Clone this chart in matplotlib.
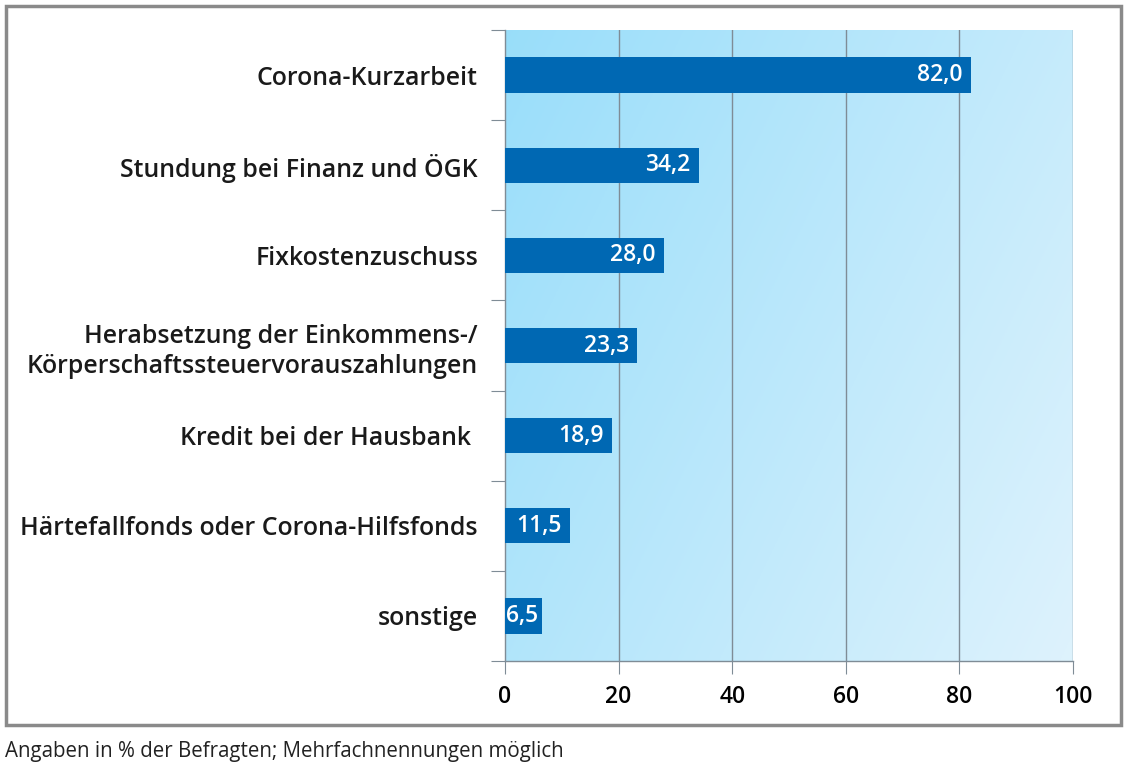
import numpy as np
import matplotlib
matplotlib.use("Agg")
import matplotlib.pyplot as plt
from matplotlib.patches import Rectangle

categories = [
    "Corona-Kurzarbeit",
    "Stundung bei Finanz und ÖGK",
    "Fixkostenzuschuss",
    "Herabsetzung der Einkommens-/\nKörperschaftssteuervorauszahlungen",
    "Kredit bei der Hausbank ",
    "Härtefallfonds oder Corona-Hilfsfonds",
    "sonstige",
]
values = [82.0, 34.2, 28.0, 23.3, 18.9, 11.5, 6.5]
xticks = [0, 20, 40, 60, 80, 100]
footnote = "Angaben in % der Befragten; Mehrfachnennungen möglich"

W, H = 1128, 776
fig = plt.figure(figsize=(W / 100, H / 100), dpi=100)

# outer frame
fig.patches.append(Rectangle((6 / W, 1 - 725 / H), (1121 - 6) / W, (725 - 6) / H,
                             transform=fig.transFigure, fill=False,
                             edgecolor="#8a8a8a", linewidth=2.5))

ax = fig.add_axes([505 / W, 1 - 661 / H, (1073 - 505) / W, (661 - 30) / H])

# gradient background
ny, nx = 200, 200
xx, yy = np.meshgrid(np.linspace(0, 1, nx), np.linspace(0, 1, ny))
t = np.clip(0.65 * xx + 0.35 * yy, 0, 1)
c0 = np.array([0.60, 0.87, 0.98])
c1 = np.array([0.87, 0.95, 0.99])
img = c0[None, None, :] * (1 - t[..., None]) + c1[None, None, :] * t[..., None]
ax.imshow(img, extent=[0, 1, 0, 1], transform=ax.transAxes, aspect="auto",
          zorder=0, origin="upper")

n = len(categories)
ypos = np.arange(n)
ax.barh(ypos, values, height=0.39, color="#0068b3", zorder=3)
ax.set_xlim(0, 100)
ax.set_ylim(n - 0.5, -0.5)

for x in xticks[1:]:
    ax.axvline(x, color="#7f8c96", linewidth=1.0, zorder=2)

for y, v in zip(ypos, values):
    label = f"{v:.1f}".replace(".", ",")
    if v < 8:
        ax.text(0.2, y, label, ha="left", va="center", color="white",
                fontsize=16.5, fontweight="semibold", family="Open Sans", zorder=4)
    else:
        ax.text(v - 1.5, y, label, ha="right", va="center", color="white",
                fontsize=16.5, fontweight="semibold", family="Open Sans", zorder=4)

ax.set_xticks(xticks)
ax.set_xticklabels([str(x) for x in xticks], fontsize=16.5, family="Open Sans",
                   fontweight="semibold")
ax.tick_params(axis="x", length=9, color="#7f8c96", pad=8)

ax.set_yticks(np.arange(n + 1) - 0.5)
ax.set_yticklabels([])
ax.tick_params(axis="y", length=10, color="#7f8c96")
ax.set_yticks(ypos, minor=True)
ax.set_yticklabels(categories, minor=True, fontsize=17.9, family="Open Sans",
                   fontweight="semibold", color="#1a1a1a", linespacing=1.3)
ax.tick_params(axis="y", which="minor", length=0, pad=19.5)

for s in ["top", "right"]:
    ax.spines[s].set_visible(False)
for s in ["left", "bottom"]:
    ax.spines[s].set_color("#7f8c96")
    ax.spines[s].set_linewidth(1.0)

fig.text(5 / W, 1 - 752 / H, footnote, fontsize=14.8, family="Open Sans",
         color="#222222", va="center", ha="left")

fig.savefig("out.png", dpi=100)
